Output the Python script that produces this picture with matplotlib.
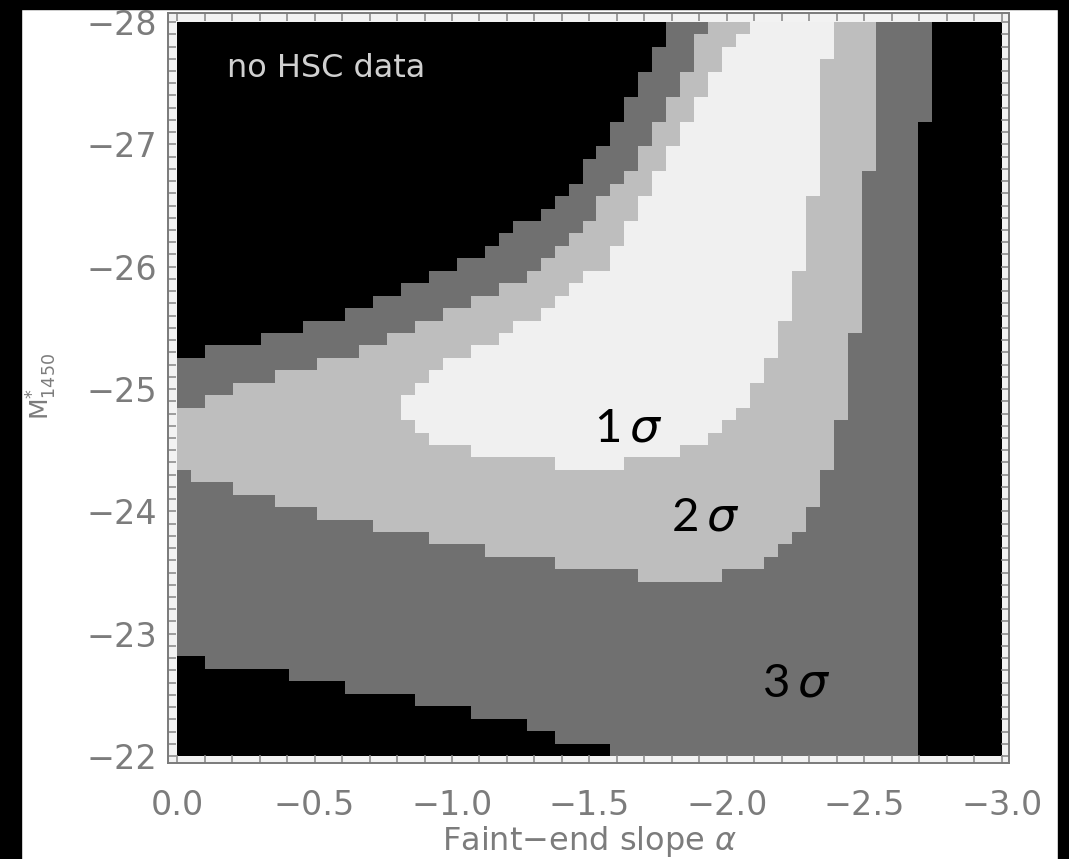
"""Konfidenzbereiche alpha / M*_1450"""

import numpy as np
import matplotlib.pyplot as plt
from matplotlib.colors import ListedColormap
from matplotlib.patches import Rectangle

nan = np.nan

#Gitter: 59 Spalten in alpha (0 ... -3), 59 Zeilen in M (-28 ... -22)
n_alpha = 59
n_mag = 59

#3 sigma Bereich: obere und untere Grenze in M je Spalte
m_top3 = ([-25.25, -25.25] + [-25.36] * 4 + [-25.46] * 3 + [-25.56] * 3
          + [-25.66] * 2 + [-25.76] * 2 + [-25.86] * 2 + [-25.97] * 2
          + [-26.07] * 2 + [-26.17, -26.27, -26.37, -26.37, -26.47, -26.58,
                             -26.68, -26.88, -26.98, -27.19, -27.39, -27.59, -27.80]
          + [-28.00] * 19 + [nan] * 5)
m_bot3 = ([-22.81] * 2 + [-22.71] * 6 + [-22.61] * 4 + [-22.51] * 5
          + [-22.41] * 4 + [-22.31] * 4 + [-22.20] * 2 + [-22.10] * 4
          + [-22.00] * 22 + [-27.19] + [nan] * 5)

#2 sigma Bereich
m_top2 = ([-24.85] * 2 + [-24.95] * 2 + [-25.05] * 3 + [-25.15] * 3
          + [-25.25] * 3 + [-25.36] * 2 + [-25.46] * 2 + [-25.56] * 2
          + [-25.66] * 2 + [-25.76] * 2 + [-25.86] * 2
          + [-25.97, -26.07, -26.17, -26.27, -26.37, -26.58, -26.68, -26.78,
             -26.98, -27.19, -27.39, -27.59, -27.90]
          + [-28.00] * 12 + [nan] * 9)
m_bot2 = ([-24.34] + [-24.24] * 3 + [-24.14] * 3 + [-24.03] * 3
          + [-23.93] * 4 + [-23.83] * 4 + [-23.73] * 4 + [-23.63] * 5
          + [-23.53] * 6 + [-23.42] * 6 + [-23.53] * 3
          + [-23.63, -23.73, -23.83, -24.03, -24.34, -24.75, -25.46, -26.78]
          + [nan] * 9)

#1 sigma Bereich
m_top1 = ([nan] * 16
          + [-24.95, -25.05, -25.15, -25.25, -25.25, -25.36, -25.36, -25.46,
             -25.56, -25.56, -25.66, -25.76, -25.86, -25.97, -25.97, -26.17,
             -26.37, -26.58, -26.78, -26.98, -27.19, -27.39, -27.59, -27.80,
             -27.90]
          + [-28.00] * 6 + [nan] * 12)
m_bot1 = ([nan] * 16 + [-24.75, -24.64] + [-24.54] * 3 + [-24.44] * 6
          + [-24.34] * 5 + [-24.44] * 4 + [-24.54] * 2
          + [-24.64, -24.75, -24.85, -25.05, -25.25, -25.56, -25.97, -26.58,
             -27.69]
          + [nan] * 12)

sigma_labels = ['1', '2', '3']
sigma_pos = [(-1.64, -24.68), (-1.92, -23.95), (-2.25, -22.59)]

#Gitter aus den Grenzen aufbauen
mag_edges = np.linspace(-28.0, -22.0, n_mag + 1)
mag_mid = 0.5 * (mag_edges[:-1] + mag_edges[1:])

level = np.zeros((n_mag, n_alpha))
for lo, hi in [(m_top3, m_bot3), (m_top2, m_bot2), (m_top1, m_bot1)]:
    lo = np.array(lo)
    hi = np.array(hi)
    level += (mag_mid[:, None] > lo[None, :]) & (mag_mid[:, None] < hi[None, :])

W, H = 1069, 859
fig = plt.figure(figsize=(W / 100, H / 100), dpi=100)
fig.patch.set_facecolor('none')

#schwarzer Rand
for (x0, y0, w, h) in [(0, 0, 21, H), (0, H - 9, W, 9), (1058, 0, 11, H)]:
    fig.add_artist(Rectangle((x0 / W, y0 / H), w / W, h / H,
                             transform=fig.transFigure, color='black', zorder=-1))

ax = fig.add_axes([168 / W, 1 - 763 / H, 841 / W, 750 / H])
ax.set_facecolor('#f2f2f2')

cmap = ListedColormap(['#000000', '#707070', '#bebebe', '#f0f0f0'])
ax.imshow(level, extent=[0, -3, -22, -28], origin='upper', cmap=cmap,
          vmin=-0.5, vmax=3.5, interpolation='nearest', aspect='auto')

ax.set_xlim(0.033, -3.026)
ax.set_ylim(-21.943, -28.074)

ax.set_xticks(np.arange(0, -3.01, -0.5))
ax.set_xticks(np.arange(0, -3.01, -0.1), minor=True)
ax.set_yticks(np.arange(-28, -21.9, 1))
ax.set_yticks(np.arange(-28, -21.99, 0.1), minor=True)
ax.set_xticklabels(['0.0', '\u22120.5', '\u22121.0', '\u22121.5', '\u22122.0',
                    '\u22122.5', '\u22123.0'])
ax.set_yticklabels(['\u221228', '\u221227', '\u221226', '\u221225', '\u221224',
                    '\u221223', '\u221222'])

txt_col = '#7c7c7c'
tick_col = '#858585'
for which in ['major', 'minor']:
    ax.tick_params(which=which, direction='in', length=5.8, width=1.1,
                   color=tick_col, top=True, right=True)
ax.tick_params(axis='x', which='major', pad=19, labelsize=24, labelcolor=txt_col)
ax.tick_params(axis='y', which='major', pad=8, labelsize=24, labelcolor=txt_col)
for sp in ax.spines.values():
    sp.set_color('#7a7a7a')
    sp.set_linewidth(1.4)

#Beschriftungen
fig.text(589 / W, 1 - 850 / H, 'Faint\u2212end slope $\\alpha$', ha='center',
         va='baseline', fontsize=23, color=txt_col)
fig.text(42 / W, 1 - 386 / H, 'M$^{*}_{1450}$', ha='center', va='center',
         rotation=90, fontsize=18, color=txt_col)

ax.text(-0.18, -27.62, 'no HSC data', ha='left', va='center', fontsize=23,
        color='#d0d0d0')

for lab, (x, y) in zip(sigma_labels, sigma_pos):
    ax.text(x, y, lab + '$\\,\\sigma$', ha='center', va='center', fontsize=34,
            color='black', family='Lato')

fig.savefig('out.png', dpi=100, facecolor='none')
